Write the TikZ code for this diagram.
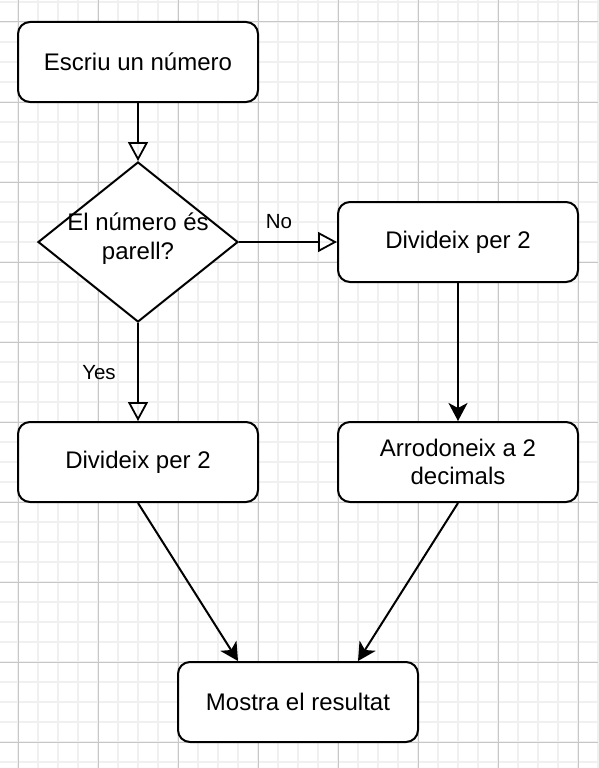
\documentclass[tikz,border=0pt]{standalone}
\usepackage{fontspec}
\setmainfont{Liberation Sans}
\usetikzlibrary{arrows.meta,shapes.geometric}
\begin{document}
\begin{tikzpicture}[x=1pt,y=-1pt,
  box/.style={draw,line width=2pt,rounded corners=12pt,minimum width=240pt,minimum height=80pt,inner sep=0pt,font=\fontsize{24}{28.8}\selectfont,align=center,fill=white},
  decision/.style={draw,line width=2pt,diamond,minimum width=200pt,minimum height=160pt,inner sep=0pt,fill=white},
  openarr/.style={line width=2pt,-{Triangle[open,length=19pt,width=20pt,line width=1.8pt]}},
  fillarr/.style={line width=2pt,-{Stealth[length=18pt,width=19pt,inset=5pt]}},
  elabel/.style={font=\fontsize{20.5}{24}\selectfont,inner sep=0pt},
  minorgrid/.style={line width=2pt,color=black!6},
  majorgrid/.style={line width=1pt,color=black!22}]
\useasboundingbox (0,0) rectangle (598,768);
\fill[white] (0,0) rectangle (598,768);
% grid
\foreach \k in {0,...,29} {\draw[minorgrid] (18+20*\k,0) -- (18+20*\k,768);}
\foreach \k in {0,...,38} {\draw[minorgrid] (0,2+20*\k) -- (598,2+20*\k);}
\foreach \k in {0,...,7} {\draw[majorgrid] (18+80*\k,0) -- (18+80*\k,768);}
\foreach \k in {0,...,9} {\draw[majorgrid] (0,22+80*\k) -- (598,22+80*\k);}
% nodes
\node[box] (start) at (138,62) {Escriu un número};
\node[decision,label={[align=center,font=\fontsize{24}{28.8}\selectfont,yshift=3pt]center:El número és\\parell?}] (dec) at (138,242) {};
\node[box] (divR) at (458,242) {Divideix per 2};
\node[box] (divL) at (138,462) {Divideix per 2};
\node[box] (round) at (458,462) {Arrodoneix a 2\\decimals};
\node[box] (show) at (298,702) {Mostra el resultat};
% edges
\draw[openarr] (start.south) -- (dec.north);
\draw[openarr] (dec.east) -- (divR.west);
\draw[openarr] (dec.south) -- (divL.north);
\draw[fillarr] (divR.south) -- (round.north);
\draw[fillarr] (divL.south) -- ([xshift=-60pt]show.north);
\draw[fillarr] (round.south) -- ([xshift=60pt]show.north);
\node[elabel] (no) at (279,222) {No};
\node[elabel] (yes) at (99,373) {Yes};
\end{tikzpicture}
\end{document}
